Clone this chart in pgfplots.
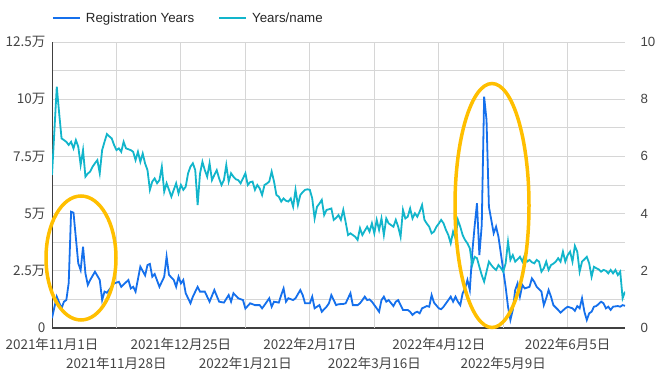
\documentclass[border=0pt]{standalone}
\usepackage{pgfplots}
\usepackage{pgfplotstable}
\pgfplotsset{compat=1.18}
\usepackage{fontspec}
\setmainfont{Liberation Sans}
\newfontfamily\cjk{Noto Sans CJK JP}
\definecolor{regblue}{HTML}{1570EC}
\definecolor{yrcyan}{HTML}{12B5CB}
\definecolor{gridgray}{HTML}{D6D6D6}
\definecolor{ringorange}{HTML}{FFBF00}
\definecolor{labgray}{HTML}{444444}

\pgfplotstableread{
day value
0 4300
2 13700
4 8600
5 11500
6 12200
7 19700
8 50800
9 50400
11 28300
12 25300
13 35500
14 23900
15 18800
16 21000
18 24600
20 21000
21 12200
22 15900
23 15400
26 19500
28 20200
29 18000
32 21000
33 17300
34 18000
35 15900
37 26800
39 23000
40 27500
41 28000
42 22400
43 23600
45 18000
47 22400
48 31200
49 23200
51 21000
52 18000
53 22400
54 19500
55 21000
56 15200
58 10800
59 13700
61 18000
62 15900
64 15900
66 11500
68 16600
70 11500
72 11100
74 14400
75 11500
76 15200
78 13000
80 12200
81 8500
83 10800
85 10000
87 10000
88 8600
89 10000
91 13000
92 9300
93 11500
95 11100
96 14400
97 17300
98 11500
99 13000
101 12200
102 13000
104 16600
105 14400
106 10800
108 10800
109 13700
110 8600
112 10000
113 7100
115 9300
116 10800
117 14400
119 10000
120 10400
122 10500
123 10800
125 15200
126 10000
128 10000
129 10800
130 12200
131 13700
132 12200
133 12500
134 11500
136 8600
137 7100
138 12200
139 13700
140 11500
141 12200
143 9600
144 11500
145 12200
146 10000
147 7900
149 7900
150 7100
151 5700
152 6700
153 7100
154 6400
155 8600
157 9600
158 9300
159 14400
160 11100
162 8600
163 8200
164 9300
166 12200
167 13700
168 11500
169 13700
170 11500
171 10000
172 15200
173 17300
174 21000
175 16600
176 32600
177 44300
178 54500
179 31900
180 45000
181 101100
182 90900
183 53000
184 47200
185 41400
186 44300
187 39900
188 32600
189 25300
190 18000
191 9300
192 3500
193 7900
194 16600
195 19500
196 13700
197 18800
198 17300
200 18000
201 21700
202 20200
203 18000
205 15900
206 10000
207 13000
208 16600
209 13700
210 10000
212 7900
213 6700
215 8600
216 9300
218 8600
219 7500
220 9600
221 8600
222 13000
223 7100
224 3500
225 6400
226 7100
227 9300
228 9600
230 11500
231 10800
232 8600
233 9300
234 7900
235 9300
237 9600
238 9300
239 10000
240 9700
}\regdata

\pgfplotstableread{
day value
0 5.35
2 8.44
3 7.51
4 6.63
5 6.57
6 6.51
7 6.40
8 6.51
9 6.28
10 6.57
11 6.34
12 5.70
13 6.22
14 5.29
15 5.40
16 5.47
17 5.64
18 5.76
19 5.87
20 5.41
21 6.22
22 6.51
23 6.78
24 6.70
25 6.63
26 6.40
27 6.22
28 6.28
29 6.16
30 6.51
31 6.28
32 6.25
33 6.22
34 6.16
35 5.87
36 6.16
37 5.81
38 6.10
39 5.75
40 5.52
41 4.83
42 5.12
43 5.23
44 5.06
45 5.17
46 5.64
47 4.77
48 5.06
49 4.83
50 4.59
51 4.83
52 5.06
53 4.71
54 5.00
55 4.83
56 4.94
57 5.41
58 5.64
59 5.76
60 5.52
61 4.30
62 5.40
63 5.81
64 5.52
65 5.29
66 5.76
67 5.17
68 5.35
69 5.52
70 5.23
71 5.00
72 5.17
73 5.70
74 5.12
75 5.41
76 5.29
77 5.20
78 5.17
79 5.06
80 5.23
81 5.41
82 5.00
83 5.10
84 5.12
85 4.83
86 5.00
87 4.88
88 4.65
89 5.00
90 5.05
91 5.12
92 5.47
93 5.12
94 4.65
95 4.59
96 4.42
97 4.53
98 4.45
99 4.42
100 4.53
101 4.24
102 4.83
103 4.30
104 4.65
105 4.75
106 4.83
107 4.85
108 4.83
109 4.53
110 3.83
111 4.24
112 4.35
113 4.48
114 3.95
115 4.13
116 4.15
117 4.18
118 3.78
119 3.85
120 3.95
121 3.78
122 4.13
123 3.70
124 3.25
125 3.31
126 3.25
127 3.19
128 3.08
129 3.49
130 3.25
131 3.40
132 3.54
133 3.37
134 3.66
135 3.31
136 3.78
137 3.43
138 3.83
139 3.25
140 3.83
141 3.66
142 3.60
143 3.54
144 3.78
145 3.54
146 3.19
147 4.13
148 3.83
149 3.89
150 4.18
151 3.83
152 4.01
153 3.89
154 4.07
155 4.30
156 3.78
157 3.65
158 3.54
159 3.31
160 3.37
161 3.54
162 3.65
163 3.78
164 3.66
165 3.43
166 3.25
167 2.96
168 3.37
169 3.14
170 3.78
171 3.54
172 3.25
173 3.08
174 2.96
175 2.79
176 2.20
177 2.49
178 2.44
179 2.14
180 1.85
181 1.62
182 1.97
183 2.32
184 2.20
185 2.10
186 2.03
187 2.20
188 2.10
189 1.97
190 2.26
191 3.02
192 2.38
193 2.55
194 2.32
195 2.40
196 2.49
197 2.32
198 2.55
199 2.32
200 2.38
201 2.30
202 2.26
203 2.38
204 2.32
205 1.97
206 2.09
207 2.32
208 2.03
209 2.20
210 2.25
211 2.32
212 2.44
213 2.32
214 2.67
215 2.32
216 2.55
217 2.67
218 2.32
219 2.87
220 2.67
221 1.97
222 2.32
223 2.40
224 2.49
225 2.26
226 1.79
227 2.14
228 2.09
229 2.05
230 1.97
231 2.03
232 2.00
233 1.91
234 2.03
235 1.91
236 2.03
237 1.85
238 1.97
239 1.04
240 1.27
}\yrdata

\begin{document}
\begin{tikzpicture}
\path[use as bounding box] (0pt,0pt) rectangle (670pt,377pt);
\begin{axis}[
  at={(52pt,49pt)}, anchor=south west,
  scale only axis, width=573pt, height=286pt,
  xmin=0, xmax=240, ymin=0, ymax=125000,
  scaled y ticks=false,
  axis x line*=bottom, axis y line*=left,
  x axis line style={line width=1.6pt, color=black!75},
  y axis line style={line width=1pt, color=black!75},
  xtick={0,54,108,162,216},
  xticklabels={2021年11月1日,2021年12月25日,2022年2月17日,2022年4月12日,2022年6月5日},
  xticklabel style={yshift=-7pt},
  extra x ticks={27,81,135,189},
  extra x tick labels={2021年11月28日,2022年1月21日,2022年3月16日,2022年5月9日},
  extra x tick style={grid=major, xticklabel style={yshift=-19pt}},
  ytick={0,12500,...,125000},
  yticklabels={0,{},2.5万,{},5万,{},7.5万,{},10万,{},12.5万},
  yticklabel style={xshift=-3pt},
  grid=major,
  major grid style={color=gridgray, line width=0.9pt},
  major tick length=0pt,
  tick label style={font=\cjk\fontsize{13.5}{15}\selectfont, color=labgray},
  legend style={at={(0,1)}, anchor=south west, draw=none, fill=none,
    inner sep=0pt, outer sep=0pt, yshift=16pt,
    font=\fontsize{13.3}{15}\selectfont, text=black!85,
    /tikz/every odd column/.append style={column sep=3pt},
    /tikz/every even column/.append style={column sep=22pt}},
  legend cell align=left,
  legend columns=2,
  legend image code/.code={\draw[#1, line width=2pt] (0pt,0pt) -- (27pt,0pt);},
]
\addplot[regblue, line width=1.8pt] table[x=day, y=value] {\regdata};
\addlegendentry{Registration Years}
\addlegendimage{yrcyan, line width=1.8pt}
\addlegendentry{Years/name}
\end{axis}
\begin{axis}[
  at={(52pt,49pt)}, anchor=south west,
  scale only axis, width=573pt, height=286pt,
  xmin=0, xmax=240, ymin=0, ymax=10,
  axis x line=none, axis y line*=right,
  y axis line style={draw=none},
  ytick={0,2,...,10}, yticklabels={0,2,4,6,8,10},
  major tick length=0pt,
  yticklabel style={anchor=west, xshift=12pt, font=\fontsize{13.3}{15}\selectfont, color=labgray},
]
\addplot[yrcyan, line width=1.8pt] table[x=day, y=value] {\yrdata};
\end{axis}
\draw[ringorange, line width=3.5pt] (81pt,119pt) ellipse [x radius=35pt, y radius=62pt];
\draw[ringorange, line width=3.5pt] (492pt,171.5pt) ellipse [x radius=37pt, y radius=122pt];
\end{tikzpicture}
\end{document}
